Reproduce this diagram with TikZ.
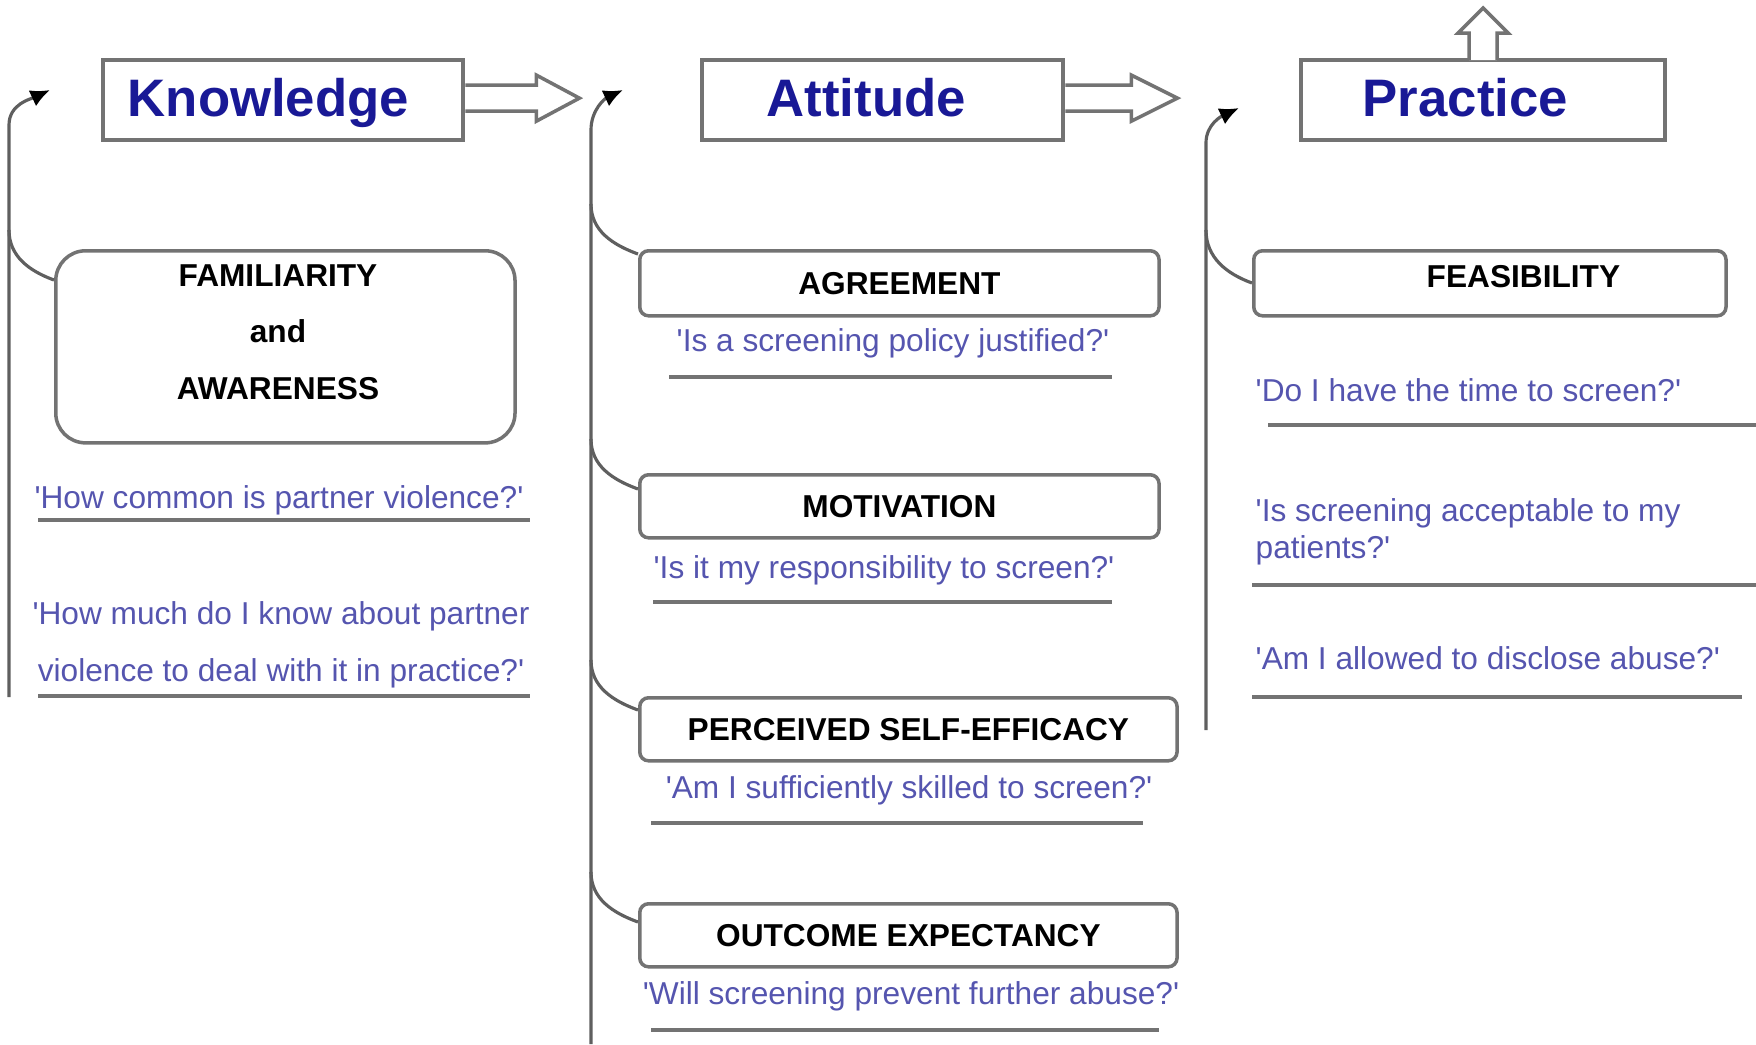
\documentclass[tikz,border=0pt]{standalone}
\usepackage{fontspec}
\newfontfamily\diagfont{Liberation Sans}
\usetikzlibrary{arrows.meta,calc}
\definecolor{titleblue}{RGB}{25,25,150}
\definecolor{askblue}{RGB}{85,85,175}
\definecolor{linegray}{RGB}{95,95,95}
\definecolor{boxgray}{RGB}{115,115,115}
\begin{document}
\begin{tikzpicture}[x=0.01cm,y=0.01cm,
    every node/.style={font=\diagfont},
    headbox/.style={draw=boxgray,line width=1.2pt,inner sep=0,anchor=north west,minimum height=0.8cm},
    title/.style={font=\diagfont\fontsize{15}{18}\selectfont\bfseries,text=titleblue,anchor=base west,inner sep=0},
    subbox/.style={draw=boxgray,line width=1pt,rounded corners=2.5pt,inner sep=0,anchor=north west,
        font=\diagfont\fontsize{9}{16}\selectfont\bfseries},
    ask/.style={text=askblue,inner sep=0,font=\diagfont\fontsize{9}{16.2}\selectfont},
    flow/.style={draw=linegray,line width=0.9pt},
    rule/.style={draw=boxgray,line width=1.1pt},
    bigarrow/.style={draw=boxgray,line width=1pt,fill=white,line join=miter}]
    \useasboundingbox (0,0) rectangle (1756,-1044);

    % three stages
    \node[headbox,minimum width=3.6cm] (know) at (101,-58) {};
    \node[headbox,minimum width=3.61cm] (att) at (700,-58) {};
    \node[headbox,minimum width=3.64cm] (prac) at (1299,-58) {};
    \node[title] (knowt) at (127,-116) {Knowledge};
    \node[title] (attt) at (766,-116) {Attitude};
    \node[title] (pract) at (1362,-116) {Practice};
    \draw[bigarrow] ($(know.east)+(0,15)$) -- ++(71,0) -- ++(0,10) -- ++(43,-23) -- ++(-43,-23) -- ++(0,10) -- ++(-71,0);
    \draw[bigarrow] ($(att.east)+(0,15)$) -- ++(66,0) -- ++(0,10) -- ++(46,-23) -- ++(-46,-23) -- ++(0,10) -- ++(-66,0);
    \draw[bigarrow] ($(prac.north)+(-14,-2)$) -- ++(0,27) -- ++(-11,0) -- ++(25,25) -- ++(25,-25) -- ++(-11,0) -- ++(0,-27);

    % components
    \node[subbox,rounded corners=8.5pt,minimum width=4.59cm,minimum height=1.92cm] (fam) at (54,-249) {};
    \node[align=center,inner sep=0,font=\diagfont\fontsize{9}{16}\selectfont\bfseries] (famt) at (278,-332) {FAMILIARITY\\and\\AWARENESS};
    \node[subbox,minimum width=5.19cm,minimum height=0.65cm] (agree) at (638,-249) {AGREEMENT};
    \node[subbox,minimum width=5.19cm,minimum height=0.63cm] (motiv) at (638,-473) {MOTIVATION};
    \node[subbox,minimum width=5.37cm,minimum height=0.63cm] (percv) at (638,-696) {PERCEIVED SELF-EFFICACY};
    \node[subbox,minimum width=5.37cm,minimum height=0.63cm] (outc) at (638,-902) {OUTCOME EXPECTANCY};
    \node[subbox,minimum width=4.72cm,minimum height=0.65cm] (feas) at (1252,-249) {};
    \node[anchor=base west,inner sep=0,font=\diagfont\fontsize{9}{11}\selectfont\bfseries] (feast) at (1426,-287) {FEASIBILITY};

    % questions
    \node[ask,anchor=base] (kq1) at (279,-508) {'How common is partner violence?'};
    \node[ask,anchor=north,align=center] (kq2) at (281,-601) {'How much do I know about partner\\violence to deal with it in practice?'};
    \node[ask,anchor=base] (aq1) at (893,-351) {'Is a screening policy justified?'};
    \node[ask,anchor=base] (aq2) at (884,-578) {'Is it my responsibility to screen?'};
    \node[ask,anchor=base] (aq3) at (909,-798) {'Am I sufficiently skilled to screen?'};
    \node[ask,anchor=base] (aq4) at (911,-1004) {'Will screening prevent further abuse?'};
    \node[ask,anchor=base west] (pq1) at (1255,-401) {'Do I have the time to screen?'};
    \node[ask,anchor=north west,align=left,font=\diagfont\fontsize{9}{10.5}\selectfont] (pq2) at (1255,-498) {'Is screening acceptable to my\\patients?'};
    \node[ask,anchor=base west] (pq3) at (1255,-669) {'Am I allowed to disclose abuse?'};
    \foreach \xa/\xb/\y in {38/530/520,38/530/696,669/1112/377,653/1112/602,651/1143/823,
        651/1159/1030,1268/1756/425,1252/1756/585,1252/1742/697}
        \draw[rule] (\xa,-\y) -- (\xb,-\y);

    % feedback lines
    \coordinate (kbot) at (9,-697);
    \coordinate (kturn) at (9,-125);
    \coordinate (ktip) at (50,-90);
    \coordinate (abot) at (591,-1044);
    \coordinate (aturn) at (591,-130);
    \coordinate (atip) at (623,-90);
    \coordinate (pbot) at (1206,-730);
    \coordinate (pturn) at (1206,-143);
    \coordinate (ptip) at (1239,-108);
    \draw[flow,-{Latex[length=5.5pt,width=5pt,color=black]}] (kbot) -- (kturn) to[out=90,in=205] (ktip);
    \draw[flow,-{Latex[length=5.5pt,width=5pt,color=black]}] (abot) -- (aturn) to[out=90,in=205] (atip);
    \draw[flow,-{Latex[length=5.5pt,width=5pt,color=black]}] (pbot) -- (pturn) to[out=90,in=205] (ptip);
    \draw[flow] ($(fam.north west)+(0,-31)$) to[out=160,in=-90] ($(kbot |- fam.north)+(0,19)$);
    \foreach \b/\d in {agree/5,motiv/16,percv/14,outc/20}
        \draw[flow] ($(\b.north west)+(0,-\d)$) to[out=160,in=-90] ($(abot |- \b.north)+(0,50-\d)$);
    \draw[flow] ($(feas.north west)+(0,-34)$) to[out=160,in=-90] ($(pbot |- feas.north)+(0,19)$);
\end{tikzpicture}
\end{document}
